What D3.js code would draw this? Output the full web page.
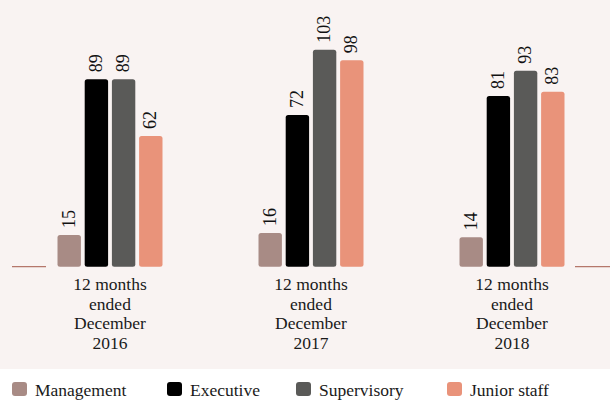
<!DOCTYPE html>
<html>
<head>
<meta charset="utf-8">
<script src="https://cdn.jsdelivr.net/npm/d3@7"></script>
<style>
html, body { margin: 0; padding: 0; background: #ffffff; }
svg { display: block; }
</style>
</head>
<body>
<svg id="chart" width="610" height="400"></svg>
<script>
const categories = [
  ["12 months", "ended", "December", "2016"],
  ["12 months", "ended", "December", "2017"],
  ["12 months", "ended", "December", "2018"]
];
const seriesNames = ["Management", "Executive", "Supervisory", "Junior staff"];
const management = [15, 16, 14];
const executive = [89, 72, 81];
const supervisory = [89, 103, 93];
const juniorStaff = [62, 98, 83];
const colors = ["#a88b85", "#000000", "#5a5a58", "#e9937a"];

const seriesValues = [management, executive, supervisory, juniorStaff];
const W = 610, H = 400;
const svg = d3.select("#chart");
const serif = "'Liberation Serif', 'Times New Roman', serif";

// plot background
svg.append("rect")
  .attr("x", -6).attr("y", -6)
  .attr("width", W + 12).attr("height", 369 + 6)
  .attr("rx", 5)
  .attr("fill", "#f9f3f2");

const x0 = d3.scaleBand().domain(d3.range(categories.length)).range([9.5, 612.5]).padding(0);
const x1 = d3.scaleBand().domain(seriesNames).range([0, 105]).paddingInner(0.14).paddingOuter(0);
const groupOffset = (x0.bandwidth() - 105) / 2;
const y = d3.scaleLinear().domain([0, 100]).range([266.7, 266.7 - 210.7]);

// baseline segments at the edges
const axisG = svg.append("g").attr("stroke", "#b5776b").attr("stroke-width", 1.2);
axisG.append("line").attr("x1", 12).attr("x2", 46).attr("y1", y(0)).attr("y2", y(0));
axisG.append("line").attr("x1", 575).attr("x2", 610).attr("y1", y(0)).attr("y2", y(0));

const groups = svg.selectAll("g.grp")
  .data(categories)
  .join("g")
  .attr("class", "grp")
  .attr("transform", (d, i) => `translate(${x0(i) + groupOffset},0)`);

groups.each(function (cat, i) {
  const g = d3.select(this);
  seriesNames.forEach((s, si) => {
    const v = seriesValues[si][i];
    const bx = x1(s);
    const bw = x1.bandwidth();
    g.append("rect")
      .attr("x", bx).attr("y", y(v))
      .attr("width", bw).attr("height", y(0) - y(v))
      .attr("rx", 2.5)
      .attr("fill", colors[si]);
    g.append("text")
      .attr("transform", `translate(${bx + bw / 2 - 0.6},${y(v) - 7}) rotate(-90)`)
      .attr("dy", "0.34em")
      .attr("text-anchor", "start")
      .attr("font-family", serif)
      .attr("font-size", 18)
      .attr("fill", "#111")
      .text(v);
  });
  const cx = x0.bandwidth() / 2 - groupOffset;
  const t = g.append("text")
    .attr("x", cx)
    .attr("y", 290)
    .attr("text-anchor", "middle")
    .attr("font-family", serif)
    .attr("font-size", 17.5)
    .attr("fill", "#1a1a1a");
  cat.forEach((line, li) => {
    t.append("tspan")
      .attr("x", cx)
      .attr("dy", li === 0 ? 0 : 19.5)
      .text(line);
  });
});

// legend
const legendX = [12, 167, 296, 447];
const leg = svg.append("g");
seriesNames.forEach((s, i) => {
  leg.append("rect")
    .attr("x", legendX[i]).attr("y", 382)
    .attr("width", 15).attr("height", 14)
    .attr("rx", 3)
    .attr("fill", colors[i]);
  leg.append("text")
    .attr("x", legendX[i] + 23).attr("y", 396)
    .attr("font-family", serif)
    .attr("font-size", 17.5)
    .attr("fill", "#1a1a1a")
    .text(s);
});
</script>
</body>
</html>
